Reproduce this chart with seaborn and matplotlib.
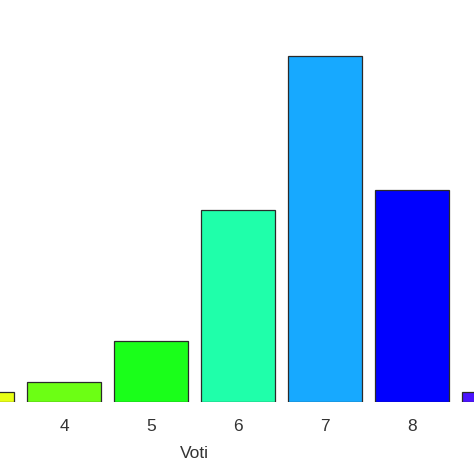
import matplotlib
matplotlib.use('Agg')
import matplotlib.pyplot as plt
import seaborn as sns
import pandas as pd

# values
voti = ['3', '4', '5', '6', '7', '8', '9']
conteggi = [1, 2, 6, 19, 34.3, 21, 1]
colori = ['#E8FF14', '#6CFF14', '#1AFF1A', '#1FFFAA', '#17A9FF', '#0000FF', '#4B14FF']

df = pd.DataFrame({'Voti': voti, 'n': conteggi})

sns.set_style('white')
plt.rcParams['font.family'] = ['Liberation Sans', 'DejaVu Sans']

fig = plt.figure(figsize=(4.74, 4.74), dpi=100)
ax = fig.add_axes([0, 72 / 474, 1, 402 / 474])

sns.barplot(data=df, x='Voti', y='n', hue='Voti', palette=colori, legend=False,
            width=0.84, edgecolor='#2a2a2a', linewidth=0.9, saturation=1, ax=ax)

# the reference is a crop: bar 3 and bar 9 are cut at the edges
ax.set_xlim((0 + 23) / 87, (474 + 23) / 87)
ax.set_ylim(0, 402 / 10.1)

for s in ax.spines.values():
    s.set_visible(False)
ax.set_yticks([])
ax.tick_params(axis='x', length=0, pad=12, labelsize=12.5, labelcolor='#333333')
ax.set_ylabel('')
ax.set_xlabel('Voti', fontsize=12.5, color='#333333')
ax.xaxis.set_label_coords(194 / 474, -44 / 402)

fig.savefig('out.png', dpi=100)
